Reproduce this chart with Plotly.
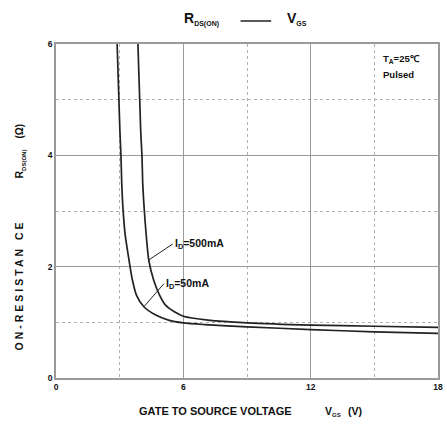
import plotly.graph_objects as go

# Gate voltage (V) and on-resistance (ohm) for the two drain currents
vgs_50ma = [2.88, 3.01, 3.06, 3.10, 3.16, 3.26, 3.44, 3.60, 3.79, 4.14, 4.70, 5.30, 6.0, 7.0, 9.0, 12.0, 15.0, 18.0]
rds_50ma = [6.0, 4.45, 4.0, 3.47, 3.02, 2.57, 2.12, 1.76, 1.49, 1.28, 1.13, 1.04, 0.99, 0.96, 0.92, 0.87, 0.83, 0.80]

vgs_500ma = [3.86, 3.99, 4.05, 4.09, 4.16, 4.25, 4.37, 4.60, 4.88, 5.16, 5.58, 6.0, 7.16, 9.0, 12.0, 15.0, 18.0]
rds_500ma = [6.0, 4.45, 4.0, 3.47, 3.02, 2.57, 2.12, 1.76, 1.49, 1.31, 1.19, 1.11, 1.04, 0.99, 0.95, 0.93, 0.91]

x_ticks = [0, 6, 12, 18]
y_ticks = [0, 2, 4, 6]

FONT = "Arial, Liberation Sans, sans-serif"
GRID = "#9a9a9a"

fig = go.Figure()
for xs, ys in [(vgs_50ma, rds_50ma), (vgs_500ma, rds_500ma)]:
    fig.add_trace(go.Scatter(x=xs, y=ys, mode="lines",
                             line=dict(color="#222", width=1.7, shape="spline", smoothing=0.7),
                             showlegend=False, hoverinfo="skip"))

axis_common = dict(
    showgrid=True, gridcolor=GRID, gridwidth=1,
    showline=True, linecolor=GRID, linewidth=1.6, mirror=True,
    zeroline=False, ticks="",
    tickfont=dict(family=FONT, size=8.5, color="#111", weight="bold"),
    minor=dict(showgrid=True, gridcolor="#b0b0b0", griddash="dot", gridwidth=1),
)
fig.update_xaxes(range=[0, 18], tickvals=x_ticks, minor_tickvals=[3, 9, 15], **axis_common)
fig.update_yaxes(range=[0, 6], tickvals=y_ticks, minor_tickvals=[1, 3, 5], **axis_common)

fig.update_layout(
    width=447, height=424,
    margin=dict(l=56, r=4, t=44, b=46),
    plot_bgcolor="white", paper_bgcolor="white",
    font=dict(family=FONT, color="#111"),
)

def px(x):
    return (x - 56) / 387

def py(y):
    return (378 - y) / 334

def label(text, x, y, size, xanchor="left", angle=0):
    fig.add_annotation(xref="paper", yref="paper", x=px(x), y=py(y), text=text, showarrow=False,
                       xanchor=xanchor, yanchor="middle", textangle=angle,
                       font=dict(family=FONT, size=size, color="#111"))

# Title: R_DS(ON) —— V_GS
label("<b>R<sub><span style='font-size:7px'>DS(ON)</span></sub></b>", 184, 19, 14)
label("<b>V<sub><span style='font-size:7px'>GS</span></sub></b>", 288, 19, 14)
fig.add_shape(type="line", xref="paper", yref="paper",
              x0=px(243), x1=px(274), y0=py(21), y1=py(21),
              line=dict(color="#222", width=1.5))

# X axis title
label("<b>GATE TO SOURCE VOLTAGE</b>", 218, 411, 11, xanchor="center")
label("<b>V<sub><span style='font-size:6px'>GS</span></sub></b>", 326, 411, 10.5)
label("<b>(V)</b>", 350, 411, 10.5)

# Y axis title
label("<b><span style='letter-spacing:3px'>ON-RESISTAN CE</span></b>", 19, 285, 10.5, xanchor="center", angle=-90)
label("<b>R<sub><span style='font-size:6px'>DS(ON)</span></sub></b>", 19, 164, 10.5, xanchor="center", angle=-90)
label("<b>(Ω)</b>", 19, 131, 10, xanchor="center", angle=-90)

# Conditions
label("<b>T<sub>A</sub>=25℃</b>", 385, 59, 9.5)
label("<b>Pulsed</b>", 385, 74, 9.5)

# Curve labels with pointers
fig.add_annotation(x=4.37, y=2.12, ax=174 - 150, ay=246 - 262, axref="pixel", ayref="pixel",
                   text="<b>I<sub>D</sub>=500mA</b>", showarrow=True, arrowhead=0, arrowwidth=1,
                   arrowcolor="#222", xanchor="left", yanchor="middle", font=dict(family=FONT, size=10.5))
fig.add_annotation(x=4.14, y=1.28, ax=165 - 145, ay=284 - 307, axref="pixel", ayref="pixel",
                   text="<b>I<sub>D</sub>=50mA</b>", showarrow=True, arrowhead=0, arrowwidth=1,
                   arrowcolor="#222", xanchor="left", yanchor="middle", font=dict(family=FONT, size=10.5))

fig.write_html("out.html")
